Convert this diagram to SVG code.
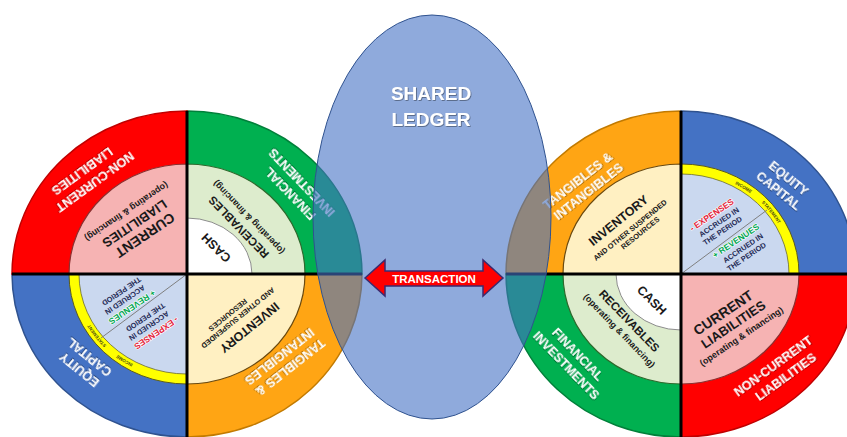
<svg xmlns="http://www.w3.org/2000/svg" width="847" height="437" viewBox="0 0 847 437">
<defs>
<style>
text{font-family:"Liberation Sans",Arial,sans-serif;font-weight:bold;text-anchor:middle}
.w{fill:#ffffff;font-size:12.5px;filter:url(#sh)}
.k{fill:#1a1a1a}
.big{font-size:12.5px}
.sm{font-size:7.4px}
.op{font-size:9px}
.nv{fill:#1F2A55;font-size:7.4px}
.ex{fill:#E4233A;font-size:8.5px;stroke:#fff;stroke-width:1.2px;paint-order:stroke}
.rv{fill:#00A651;font-size:8.5px;stroke:#fff;stroke-width:1.2px;paint-order:stroke}
.tiny{fill:#4a4a10;font-size:4.5px}
.cross{stroke:#000;stroke-width:3;fill:none}
</style>
<filter id="sh" x="-20%" y="-40%" width="140%" height="180%">
<feDropShadow dx="0.8" dy="0.8" stdDeviation="0.6" flood-color="#000" flood-opacity="0.45"/>
</filter>
<path id="ringArc" d="M0,-103 A111.5,103 0 0 1 111.5,0"/>
</defs>

<g id="left-circle" transform="translate(187,274) rotate(180)">
 <g id="left-tangibles">
  <path d="M0,0 L-175,0 A175,163 0 0 1 0,-163 Z" fill="#FFA514" stroke="#C27A00" stroke-width="1.5"/>
  <path d="M0,0 L-118,0 A118,110 0 0 1 0,-110 Z" fill="#FFF0C2" stroke="#6B4A10" stroke-width="1.2"/>
  <g transform="translate(-98,-88) rotate(-38)"><text class="w" x="-1" y="-3.2">TANGIBLES &amp;</text><text class="w" x="1" y="12.2">INTANGIBLES</text></g>
  <g transform="translate(-51,-44) rotate(-39)"><text class="k big" x="-3" y="-10.5">INVENTORY</text><text class="k sm" x="0" y="2.7">AND OTHER SUSPENDED</text><text class="k sm" x="6" y="11.3">RESOURCES</text></g>
 </g>
 <g id="left-equity">
  <path d="M0,0 L0,-163 A175,163 0 0 1 175,0 Z" fill="#4472C4" stroke="#2F528F" stroke-width="1.5"/>
  <path d="M0,0 L0,-110 A118,110 0 0 1 118,0 Z" fill="#FFFF00" stroke="#5a5a20" stroke-width="1"/>
  <path d="M0,0 L0,-100 A108,100 0 0 1 108,0 Z" fill="#CAD8EF" stroke="#6a6a30" stroke-width="0.8"/>
  <line x1="0" y1="0" x2="86" y2="-64" stroke="#7F7F7F" stroke-width="1"/>
  <text class="tiny"><textPath href="#ringArc" startOffset="65">INCOME</textPath></text>
  <text class="tiny"><textPath href="#ringArc" startOffset="102">STATEMENT</textPath></text>
  <g transform="translate(103,-90) rotate(39)"><text class="w" y="-3.5">EQUITY</text><text class="w" y="12.5">CAPITAL</text></g>
  <g transform="translate(38,-52) rotate(-34)"><text class="ex" x="-2" y="-7">- EXPENSES</text><text class="nv" x="0" y="2.7">ACCRUED IN</text><text class="nv" x="-2" y="11.7">THE PERIOD</text></g>
  <g transform="translate(62,-26) rotate(-34)"><text class="rv" x="-2" y="-7">+ REVENUES</text><text class="nv" x="0" y="2.7">ACCRUED IN</text><text class="nv" x="-2" y="11.7">THE PERIOD</text></g>
 </g>
 <g id="left-financial">
  <path d="M0,0 L0,163 A175,163 0 0 1 -175,0 Z" fill="#00B050" stroke="#00803A" stroke-width="1.5"/>
  <path d="M0,0 L0,110 A118,110 0 0 1 -118,0 Z" fill="#DDECCD" stroke="#2D6A2D" stroke-width="1.2"/>
  <path d="M0,0 L0,56 A65,56 0 0 1 -65,0 Z" fill="#FFFFFF" stroke="#8C8C8C" stroke-width="1"/>
  <g transform="translate(-29,26) rotate(45)"><text class="k big" y="4.5">CASH</text></g>
  <g transform="translate(-56,51) rotate(46)"><text class="k" style="font-size:11.5px" y="-2">RECEIVABLES</text><text class="k op" x="0" y="11">(operating &amp; financing)</text></g>
  <g transform="translate(-108.5,85.5) rotate(46)"><text class="w" y="-3.5">FINANCIAL</text><text class="w" y="12.5">INVESTMENTS</text></g>
 </g>
 <g id="left-liabilities">
  <path d="M0,0 L175,0 A175,163 0 0 1 0,163 Z" fill="#FF0000" stroke="#C00000" stroke-width="1.5"/>
  <path d="M0,0 L118,0 A118,110 0 0 1 0,110 Z" fill="#F6B3B3" stroke="#8B3030" stroke-width="1.2"/>
  <g transform="translate(52,50) rotate(-34)"><text class="k" style="font-size:14px" x="-2" y="-10">CURRENT</text><text class="k" style="font-size:13px" y="5">LIABILITIES</text><text class="k op" x="0" y="18">(operating &amp; financing)</text></g>
  <g transform="translate(98,97) rotate(-36)"><text class="w" x="-2" y="-3.5">NON-CURRENT</text><text class="w" x="2" y="12.5">LIABILITIES</text></g>
 </g>
 <path class="cross" d="M0,-163 V163 M-175,0 H175"/>
</g>

<g id="right-circle" transform="translate(681,274)">
 <g id="right-tangibles">
  <path d="M0,0 L-175,0 A175,163 0 0 1 0,-163 Z" fill="#FFA514" stroke="#C27A00" stroke-width="1.5"/>
  <path d="M0,0 L-118,0 A118,110 0 0 1 0,-110 Z" fill="#FFF0C2" stroke="#6B4A10" stroke-width="1.2"/>
  <g transform="translate(-98,-88) rotate(-38)"><text class="w" x="-1" y="-3.2">TANGIBLES &amp;</text><text class="w" x="1" y="12.2">INTANGIBLES</text></g>
  <g transform="translate(-51,-44) rotate(-39)"><text class="k big" x="-3" y="-10.5">INVENTORY</text><text class="k sm" x="0" y="2.7">AND OTHER SUSPENDED</text><text class="k sm" x="6" y="11.3">RESOURCES</text></g>
 </g>
 <g id="right-equity">
  <path d="M0,0 L0,-163 A175,163 0 0 1 175,0 Z" fill="#4472C4" stroke="#2F528F" stroke-width="1.5"/>
  <path d="M0,0 L0,-110 A118,110 0 0 1 118,0 Z" fill="#FFFF00" stroke="#5a5a20" stroke-width="1"/>
  <path d="M0,0 L0,-100 A108,100 0 0 1 108,0 Z" fill="#CAD8EF" stroke="#6a6a30" stroke-width="0.8"/>
  <line x1="0" y1="0" x2="86" y2="-64" stroke="#7F7F7F" stroke-width="1"/>
  <text class="tiny"><textPath href="#ringArc" startOffset="65">INCOME</textPath></text>
  <text class="tiny"><textPath href="#ringArc" startOffset="102">STATEMENT</textPath></text>
  <g transform="translate(103,-90) rotate(39)"><text class="w" y="-3.5">EQUITY</text><text class="w" y="12.5">CAPITAL</text></g>
  <g transform="translate(38,-52) rotate(-34)"><text class="ex" x="-2" y="-7">- EXPENSES</text><text class="nv" x="0" y="2.7">ACCRUED IN</text><text class="nv" x="-2" y="11.7">THE PERIOD</text></g>
  <g transform="translate(62,-26) rotate(-34)"><text class="rv" x="-2" y="-7">+ REVENUES</text><text class="nv" x="0" y="2.7">ACCRUED IN</text><text class="nv" x="-2" y="11.7">THE PERIOD</text></g>
 </g>
 <g id="right-financial">
  <path d="M0,0 L0,163 A175,163 0 0 1 -175,0 Z" fill="#00B050" stroke="#00803A" stroke-width="1.5"/>
  <path d="M0,0 L0,110 A118,110 0 0 1 -118,0 Z" fill="#DDECCD" stroke="#2D6A2D" stroke-width="1.2"/>
  <path d="M0,0 L0,56 A65,56 0 0 1 -65,0 Z" fill="#FFFFFF" stroke="#8C8C8C" stroke-width="1"/>
  <g transform="translate(-29,26) rotate(45)"><text class="k big" y="4.5">CASH</text></g>
  <g transform="translate(-56,51) rotate(46)"><text class="k" style="font-size:11.5px" y="-2">RECEIVABLES</text><text class="k op" x="0" y="11">(operating &amp; financing)</text></g>
  <g transform="translate(-108.5,85.5) rotate(46)"><text class="w" y="-3.5">FINANCIAL</text><text class="w" y="12.5">INVESTMENTS</text></g>
 </g>
 <g id="right-liabilities">
  <path d="M0,0 L175,0 A175,163 0 0 1 0,163 Z" fill="#FF0000" stroke="#C00000" stroke-width="1.5"/>
  <path d="M0,0 L118,0 A118,110 0 0 1 0,110 Z" fill="#F6B3B3" stroke="#8B3030" stroke-width="1.2"/>
  <g transform="translate(52,50) rotate(-34)"><text class="k" style="font-size:14px" x="-2" y="-10">CURRENT</text><text class="k" style="font-size:13px" y="5">LIABILITIES</text><text class="k op" x="0" y="18">(operating &amp; financing)</text></g>
  <g transform="translate(98,97) rotate(-36)"><text class="w" x="-2" y="-3.5">NON-CURRENT</text><text class="w" x="2" y="12.5">LIABILITIES</text></g>
 </g>
 <path class="cross" d="M0,-163 V163 M-175,0 H175"/>
</g>

<g id="shared-ledger">
 <ellipse cx="432" cy="217" rx="119" ry="202" fill="#4472C4" fill-opacity="0.6" stroke="#2F528F" stroke-width="1"/>
 <text x="431" y="100" style="font-size:19px;fill:#fff;filter:url(#sh)">SHARED</text>
 <text x="431" y="126" style="font-size:19px;fill:#fff;filter:url(#sh)">LEDGER</text>
</g>

<g id="connectors">
 <g id="transaction">
  <polygon points="365,278 385,260 385,271 483,271 483,260 503,278 483,296 483,286 385,286 385,296" fill="#FF0000" stroke="#3C2A6E" stroke-width="1.5" stroke-linejoin="miter"/>
  <text x="434" y="282.5" style="font-size:11.5px;fill:#fff">TRANSACTION</text>
 </g>
</g>
</svg>
